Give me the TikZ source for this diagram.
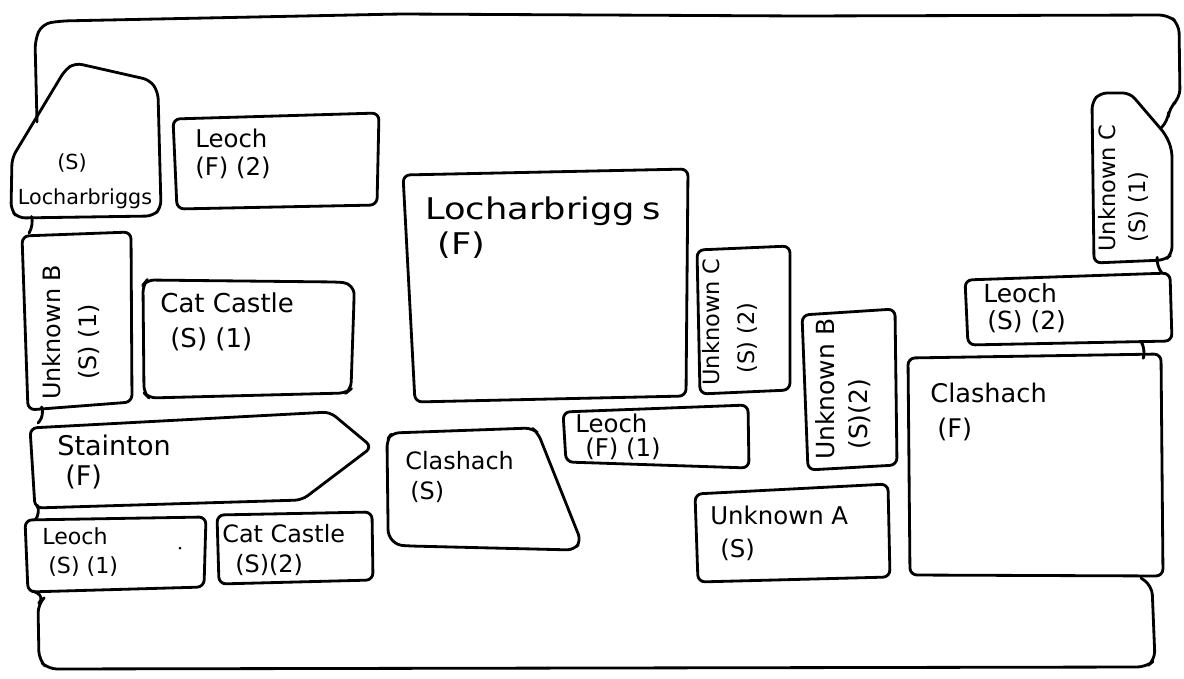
\documentclass[tikz,border=0pt]{standalone}
\usepackage{fontspec}
\newfontfamily\hand{DejaVu Sans}
\newfontfamily\handwide[FakeStretch=1.18]{DejaVu Sans}
\newcommand{\fs}[2]{\hand\fontsize{#1}{#2}\selectfont}
\newcommand{\fsw}[2]{\handwide\fontsize{#1}{#2}\selectfont}
\tikzset{
  stone/.style={draw, line width=1.6pt, rounded corners=4pt, line join=round},
  rim/.style={draw, line width=1.6pt, rounded corners=5pt, line cap=round, line join=round},
  lbl/.style={anchor=west, inner sep=0pt, align=left},
  vlbl/.style={anchor=west, inner sep=0pt, align=left, rotate=90},
}
\begin{document}
\begin{tikzpicture}[x=0.02cm, y=-0.02cm]
\useasboundingbox (0,0) rectangle (1184,679);
% ---------- outer rim ----------
\draw[rim] (37,122) -- (35,40) -- (42,24) -- (60,21) -- (400,14) -- (800,16) -- (1168,15) -- (1179,24) -- (1180,98) -- (1169,108) -- (1168,121) -- (1161,128);
\draw[rim] (1141,578) -- (1152,586) -- (1155,660) -- (1146,667) -- (600,668) -- (48,669) -- (39,660) -- (38,604) -- (45,597) -- (33,591);
% connectors between stones on the rim
\draw[rim] (32,218) -- (34,225) -- (29,233);
\draw[rim] (42,408) -- (45,415) -- (38,423);
\draw[rim] (38,507) -- (41,513) -- (36,519);
\draw[rim] (1157,259) -- (1156,266) -- (1162,273);
\draw[rim] (1143,345) -- (1146,350) -- (1144,356);
% ---------- stones ----------
\draw[stone] (65,70) -- (75,63) -- (150,80) -- (158,92) -- (161,208) -- (153,216) -- (18,218) -- (11,210) -- (12,158) -- cycle;
\draw[stone] (173,119) -- (379,113) -- (377,205) -- (177,209) -- cycle;
\draw[stone] (22,236) -- (131,232) -- (132,402) -- (28,410) -- cycle;
\draw[stone] (147,280) -- (336,282) .. controls (350,283) and (354,290) .. (354,300) -- (351,389) -- (346,393) -- (149,398) -- (144,393) -- (143,285) -- cycle;
\draw[stone] (30,428) -- (330,412) -- (372,447) -- (302,500) -- (35,508) -- cycle;
\draw[stone] (25,520) -- (206,517) -- (204,587) -- (28,592) -- cycle;
\fill (180,548) circle (1.5);
\draw[stone] (217,515) -- (372,512) -- (373,580) -- (219,584) -- cycle;
\draw[stone] (392,433) -- (532,428) -- (538,433) -- (581,541) -- (574,550) -- (410,546) .. controls (395,545) and (388,538) .. (388,522) -- (387,440) -- cycle;
\draw[stone] (403,175) -- (688,169) -- (686,396) -- (415,402) -- cycle;
\draw[stone] (563,412) -- (748,405) -- (749,468) -- (566,462) -- cycle;
\draw[stone] (697,250) -- (790,246) -- (790,390) -- (700,394) -- cycle;
\draw[stone] (802,315) -- (895,309) -- (897,465) -- (808,470) -- cycle;
\draw[stone] (695,494) -- (888,484) -- (890,577) -- (698,582) -- cycle;
\draw[stone] (908,358) -- (1161,354) -- (1163,576) -- (910,575) -- cycle;
\draw[stone] (965,280) -- (1170,273) -- (1172,341) -- (968,345) -- cycle;
\draw[stone] (1092,102) -- (1100,93) -- (1130,93) -- (1166,135) -- (1172,150) -- (1172,254) -- (1165,260) -- (1094,263) -- cycle;
% ---------- labels ----------
\node[anchor=center, inner sep=0pt, align=center, font=\fs{11.8}{19.8}] (tLochS) at (85,181) {(S)\hspace*{0.52cm}\\Locharbriggs};
\node[lbl, font=\fs{13.9}{15.8}] (tLeochF2) at (195,154) {Leoch\\(F) (2)};
\node[vlbl, font=\fs{13.6}{21}] (tUnkB1) at (71,400) {Unknown B\\\hspace*{0.4cm}(S) (1)};
\node[lbl, font=\fs{14.8}{19.8}] (tCatS1) at (160,322) {Cat Castle\\\hspace*{0.2cm}(S) (1)};
\node[lbl, font=\fs{15.4}{17.6}] (tStain) at (57,462) {Stainton\\\hspace*{0.16cm}(F)};
\node[lbl, font=\fs{12.6}{16.4}] (tLeochS1) at (42,552) {Leoch\\\hspace*{0.12cm}(S) (1)};
\node[lbl, font=\fs{13.6}{17}] (tCatS2) at (222,550) {Cat Castle\\\hspace*{0.26cm}(S)(2)};
\node[lbl, font=\fs{13.6}{17}] (tClashS) at (405,477) {Clashach\\\hspace*{0.1cm}(S)};
\node[lbl, font=\fsw{17}{19.8}] (tLochF) at (425,228) {Locharbrigg\hspace{0.15cm}s\\\hspace*{0.24cm}(F)};
\node[lbl, font=\fs{13.9}{13.6}] (tLeochF1) at (575,437) {Leoch\\\hspace*{0.2cm}(F) (1)};
\node[vlbl, font=\fs{12.8}{19.8}] (tUnkC2) at (730,386) {Unknown C\\\hspace*{0.24cm}(S) (2)};
\node[vlbl, font=\fs{14.2}{18.7}] (tUnkB2) at (843,460) {Unknown B\\\hspace*{0.2cm}(S)(2)};
\node[lbl, font=\fs{13.9}{18.7}] (tUnkA) at (710,533) {Unknown A\\\hspace*{0.2cm}(S)};
\node[lbl, font=\fs{14.6}{19.8}] (tClashF) at (930,412) {Clashach\\\hspace*{0.14cm}(F)};
\node[vlbl, font=\fs{12.8}{17}] (tUnkC1) at (1123,252) {Unknown C\\\hspace*{0.18cm}(S) (1)};
\node[lbl, font=\fs{14.2}{15.3}] (tLeochS2) at (983,308) {Leoch\\\hspace*{0.08cm}(S) (2)};
\end{tikzpicture}
\end{document}
